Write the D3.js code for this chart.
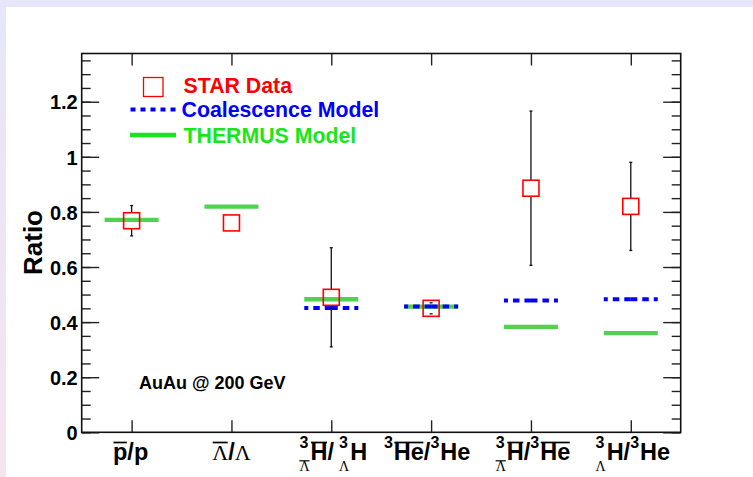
<!DOCTYPE html>
<html>
<head>
<meta charset="utf-8">
<script src="https://cdn.jsdelivr.net/npm/d3@7"></script>
<style>
  html, body { margin: 0; padding: 0; background: #ffffff; }
  svg { display: block; }
  text { font-family: "Liberation Sans", Arial, Helvetica, sans-serif; font-weight: bold; }
  .main { font-size: 23.5px; }
  .mainSerif { font-family: "Liberation Serif", "Times New Roman", serif; font-weight: normal; font-size: 22px; }
  .sup { font-size: 16px; }
  .sub { font-family: "Liberation Serif", "Times New Roman", serif; font-weight: normal; font-size: 14px; }
</style>
</head>
<body>
<script>
// Particle ratio categories (tokens describe the TLatex-like label pieces)
const categories = [
  [{t: "p", bar: true}, {t: "/p"}],
  [{t: "Λ", bar: true, serif: true}, {t: "/"}, {t: "Λ", serif: true}],
  [{sup: "3", sub: "Λ", subBar: true}, {t: "H", bar: true}, {t: "/"}, {gap: 5}, {sup: "3", sub: "Λ"}, {t: "H"}],
  [{sup: "3"}, {t: "He", bar: true}, {t: "/"}, {sup: "3"}, {t: "He"}],
  [{sup: "3", sub: "Λ", subBar: true}, {t: "H", bar: true}, {t: "/"}, {sup: "3"}, {t: "He", bar: true}],
  [{sup: "3", sub: "Λ"}, {t: "H"}, {t: "/"}, {sup: "3"}, {t: "He"}]
];

// STAR measurements and their errors
const starValues = [0.768, 0.760, 0.490, 0.450, 0.886, 0.820];
const starErrors = [0.055, 0.004, 0.180, 0.020, 0.280, 0.160];

// Model predictions (null: no prediction)
const coalescenceValues = [null, null, 0.451, 0.457, 0.478, 0.483];
const thermusValues = [0.771, 0.819, 0.483, 0.456, 0.383, 0.360];

// Axis ticks
const yMajorTicks = [0, 0.2, 0.4, 0.6, 0.8, 1.0, 1.2];
const yMinorTicks = d3.range(0, 28).map(i => +(i * 0.05).toFixed(2));

const legendLabels = ["STAR Data", "Coalescence Model", "THERMUS Model"];
const systemLabel = "AuAu @ 200 GeV";
const yTitle = "Ratio";

const W = 753, H = 477;
const frame = {left: 81.7, right: 680.7, top: 53.5, bottom: 432.3};

const RED = "#ff0000", BLUE = "#0000ff", GREEN_PLOT = "#52d052", GREEN_LEG = "#19e619";

const svg = d3.select("body").append("svg").attr("width", W).attr("height", H);

// Page background with lavender border strips
const defs = svg.append("defs");
const grad = defs.append("linearGradient").attr("id", "edge").attr("x1", 0).attr("y1", 0).attr("x2", 0).attr("y2", 1);
grad.append("stop").attr("offset", "0%").attr("stop-color", "#e6e6fa");
grad.append("stop").attr("offset", "100%").attr("stop-color", "#f5e4ee");
svg.append("rect").attr("width", W).attr("height", H).attr("fill", "#ffffff");
svg.append("rect").attr("x", 0).attr("y", 0).attr("width", 6).attr("height", H).attr("fill", "url(#edge)");
svg.append("rect").attr("x", 0).attr("y", 0).attr("width", W).attr("height", 7).attr("fill", "#e6e6fa");

const x = d3.scaleLinear().domain([0, categories.length]).range([frame.left, frame.right]);
const y = d3.scaleLinear().domain([0, 1.375]).range([frame.bottom, frame.top]);
const centers = categories.map((c, i) => i + 0.5);

// Axes: ticks drawn inward on all four sides
function styleAxis(g) {
  g.select(".domain").remove();
  g.selectAll(".tick line").attr("stroke", "#222").attr("stroke-width", 1.4);
}
svg.append("g").attr("transform", `translate(${frame.left},0)`)
  .call(d3.axisLeft(y).tickValues(yMinorTicks).tickSize(-9).tickFormat(""))
  .call(styleAxis);
svg.append("g").attr("transform", `translate(${frame.left},0)`)
  .call(d3.axisLeft(y).tickValues(yMajorTicks).tickSize(-17.5).tickPadding(4).tickFormat(d3.format("~g")))
  .call(styleAxis)
  .call(g => g.selectAll("text").attr("font-size", 20).attr("fill", "#000").attr("dy", "0.36em"));
svg.append("g").attr("transform", `translate(${frame.right},0)`)
  .call(d3.axisRight(y).tickValues(yMinorTicks).tickSize(-9).tickFormat(""))
  .call(styleAxis);
svg.append("g").attr("transform", `translate(${frame.right},0)`)
  .call(d3.axisRight(y).tickValues(yMajorTicks).tickSize(-17.5).tickFormat(""))
  .call(styleAxis);
svg.append("g").attr("transform", `translate(0,${frame.bottom})`)
  .call(d3.axisBottom(x).tickValues(centers).tickSize(-12).tickFormat(""))
  .call(styleAxis);
svg.append("g").attr("transform", `translate(0,${frame.top})`)
  .call(d3.axisTop(x).tickValues(centers).tickSize(-12).tickFormat(""))
  .call(styleAxis);

svg.append("rect")
  .attr("x", frame.left).attr("y", frame.top)
  .attr("width", frame.right - frame.left).attr("height", frame.bottom - frame.top)
  .attr("fill", "none").attr("stroke", "#111").attr("stroke-width", 1.6);

// Y title
svg.append("text")
  .attr("transform", `translate(41.5,242.5) rotate(-90)`)
  .attr("text-anchor", "middle").attr("font-size", 26).attr("fill", "#000")
  .text(yTitle);

// Category labels with overlines, pre-superscripts and pre-subscripts
const labelBaseline = 460;
const labelShift = [-1, 0, 2, -4, 2, 2];
function buildLabel(g, tokens) {
  let cx = 0;
  tokens.forEach(tok => {
    if (tok.gap) { cx += tok.gap; return; }
    if (tok.sup !== undefined || tok.sub !== undefined) {
      let w = 0;
      if (tok.sup) {
        const t = g.append("text").attr("class", "sup").attr("x", cx).attr("y", -12.5).text(tok.sup);
        w = Math.max(w, t.node().getComputedTextLength());
      }
      if (tok.sub) {
        const t = g.append("text").attr("class", "sub").attr("x", cx).attr("y", 11).text(tok.sub);
        const sw = t.node().getComputedTextLength();
        if (tok.subBar) {
          g.append("line").attr("x1", cx).attr("x2", cx + sw).attr("y1", 0.8).attr("y2", 0.8)
            .attr("stroke", "#000").attr("stroke-width", 1.2);
        }
        w = Math.max(w, sw);
      }
      cx += w + 1;
    } else {
      const t = g.append("text").attr("class", tok.serif ? "mainSerif" : "main").attr("x", cx).attr("y", 0).text(tok.t);
      const w = t.node().getComputedTextLength();
      if (tok.bar) {
        g.append("line").attr("x1", cx + 0.5).attr("x2", cx + w - 0.5).attr("y1", -17.5).attr("y2", -17.5)
          .attr("stroke", "#000").attr("stroke-width", 1.7);
      }
      cx += w;
    }
  });
  return cx;
}
categories.forEach((tokens, i) => {
  const g = svg.append("g").attr("fill", "#000");
  const w = buildLabel(g, tokens);
  g.attr("transform", `translate(${x(centers[i]) - w / 2 + labelShift[i]},${labelBaseline})`);
});

// Model bands: horizontal segments centred on each category
const halfLen = 27;
thermusValues.forEach((v, i) => {
  if (v == null) return;
  svg.append("line")
    .attr("x1", x(centers[i]) - halfLen).attr("x2", x(centers[i]) + halfLen)
    .attr("y1", y(v)).attr("y2", y(v))
    .attr("stroke", GREEN_PLOT).attr("stroke-width", 4.3);
});
coalescenceValues.forEach((v, i) => {
  if (v == null) return;
  [-1, 1].forEach(dir => {
    svg.append("line")
      .attr("x1", x(centers[i])).attr("x2", x(centers[i]) + dir * halfLen)
      .attr("y1", y(v)).attr("y2", y(v))
      .attr("stroke", BLUE).attr("stroke-width", 4).attr("stroke-dasharray", "6.5,5");
  });
});

// STAR data: error bars and open squares
const half = 8;
starValues.forEach((v, i) => {
  const cx = x(centers[i]), cy = y(v);
  const top = y(v + starErrors[i]), bot = y(v - starErrors[i]);
  if (cy - top > half) {
    svg.append("line").attr("x1", cx).attr("x2", cx).attr("y1", top).attr("y2", cy - half)
      .attr("stroke", "#111").attr("stroke-width", 1.3);
    svg.append("line").attr("x1", cx).attr("x2", cx).attr("y1", cy + half).attr("y2", bot)
      .attr("stroke", "#111").attr("stroke-width", 1.3);
  }
  if (starErrors[i] > 0.01) {
    [top, bot].forEach(yy => svg.append("line").attr("x1", cx - 1.5).attr("x2", cx + 1.5)
      .attr("y1", yy).attr("y2", yy).attr("stroke", "#111").attr("stroke-width", 1.3));
  }
  svg.append("rect").attr("x", cx - half).attr("y", cy - half).attr("width", 2 * half).attr("height", 2 * half)
    .attr("fill", "none").attr("stroke", RED).attr("stroke-width", 1.6);
});

// Legend
const leg = svg.append("g");
leg.append("rect").attr("x", 143.5).attr("y", 77.5).attr("width", 19.5).attr("height", 19)
  .attr("fill", "none").attr("stroke", RED).attr("stroke-width", 1.3);
leg.append("line").attr("x1", 130.5).attr("x2", 176.5).attr("y1", 109.5).attr("y2", 109.5)
  .attr("stroke", BLUE).attr("stroke-width", 4).attr("stroke-dasharray", "5,5");
leg.append("line").attr("x1", 130).attr("x2", 176).attr("y1", 135).attr("y2", 135)
  .attr("stroke", GREEN_LEG).attr("stroke-width", 4.5);
const legColors = [RED, BLUE, GREEN_LEG];
const legX = [183.5, 181.5, 183.5];
const legY = [93.3, 116.5, 142.5];
legendLabels.forEach((t, i) => {
  leg.append("text").attr("x", legX[i]).attr("y", legY[i]).attr("font-size", 21.3)
    .attr("fill", legColors[i]).text(t);
});

// Collision system annotation
svg.append("text").attr("x", 139).attr("y", 389.3).attr("font-size", 18).attr("fill", "#000").text(systemLabel);
</script>
</body>
</html>
